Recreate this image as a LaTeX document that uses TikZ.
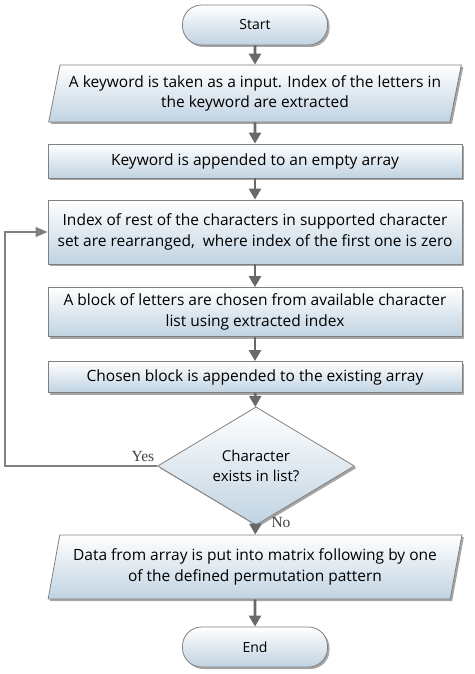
\documentclass[tikz,border=0pt]{standalone}
\usepackage{fontspec}
\setmainfont{Open Sans}
\newfontfamily\yesnofont{Liberation Serif}
\usetikzlibrary{arrows.meta, shapes.geometric, positioning, shadows, calc}
\definecolor{boxblue}{RGB}{192,211,226}
\definecolor{edgegray}{RGB}{128,128,128}
\definecolor{arrowgray}{RGB}{105,105,105}
\tikzset{
  flownode/.style={
    draw=edgegray, line width=0.8pt, top color=white, bottom color=boxblue,
    drop shadow={shadow xshift=2pt, shadow yshift=-2pt, fill=black, opacity=0.35},
    align=center, inner sep=1pt, font=\fontsize{15.5}{20.5}\selectfont
  },
  terminal/.style={flownode, rectangle, rounded corners=19pt, minimum width=145pt,
    minimum height=40pt, font=\fontsize{14}{17}\selectfont},
  process/.style={flownode, rectangle, minimum width=414pt},
  io/.style={flownode, trapezium, trapezium left angle=74, trapezium right angle=106,
    trapezium stretches=true, minimum width=414pt},
  decision/.style={flownode, diamond, minimum width=197pt, minimum height=87pt,
    inner sep=0pt, font=\fontsize{15}{20}\selectfont},
  flowarrow/.style={-{Triangle[length=11pt,width=12pt]}, draw=arrowgray, line width=2.6pt},
  looparrow/.style={-{Triangle[length=12pt,width=10pt]}, draw=edgegray, line width=1.3pt},
  yesno/.style={font=\yesnofont\fontsize{15.5}{17}\selectfont, text=black!75}
}

\begin{document}
\begin{tikzpicture}[x=1pt, y=-1pt]
    \useasboundingbox (0,0) rectangle (474,674);
    \node[terminal] (start) at (255,25) {Start};
    \node[io, minimum height=57pt] (input) at (255,93.5)
      {A keyword is taken as a input. Index of the letters in\\ the keyword are extracted};
    \node[process, minimum height=34pt] (append) at (255,161) {Keyword is appended to an empty array};
    \node[process, minimum height=64pt] (rearrange) at (255,232)
      {Index of rest of the characters in supported character\\ set are rearranged,\ \ where index of the first one is zero};
    \node[process, minimum height=49pt] (choose) at (255,312)
      {A block of letters are chosen from available character\\ list using extracted index};
    \node[process, minimum height=31pt] (chosen) at (255,377) {Chosen block is appended to the existing array};
    \node[decision] (check) at (256,466) {Character\\ exists in list?};
    \node[io, minimum height=64pt] (matrix) at (255,567)
      {Data from array is put into matrix following by one\\ of the defined permutation pattern};
    \node[terminal] (stop) at (255,647) {End};

    \coordinate (loopcorner) at (5,466);
    \node[yesno] (yes) at (143,456) {Yes};
    \node[yesno] (no) at (281,522) {No};

    \draw[flowarrow] (start) -- (input);
    \draw[flowarrow] (input) -- (append);
    \draw[flowarrow] (append) -- (rearrange);
    \draw[flowarrow] (rearrange) -- (choose);
    \draw[flowarrow] (choose) -- (chosen);
    \draw[flowarrow] (chosen) -- (check);
    \draw[flowarrow] (check) -- (matrix);
    \draw[flowarrow] (matrix) -- (stop);
    \draw[looparrow] (check.west) -- (loopcorner) |- (rearrange.west);
\end{tikzpicture}
\end{document}
